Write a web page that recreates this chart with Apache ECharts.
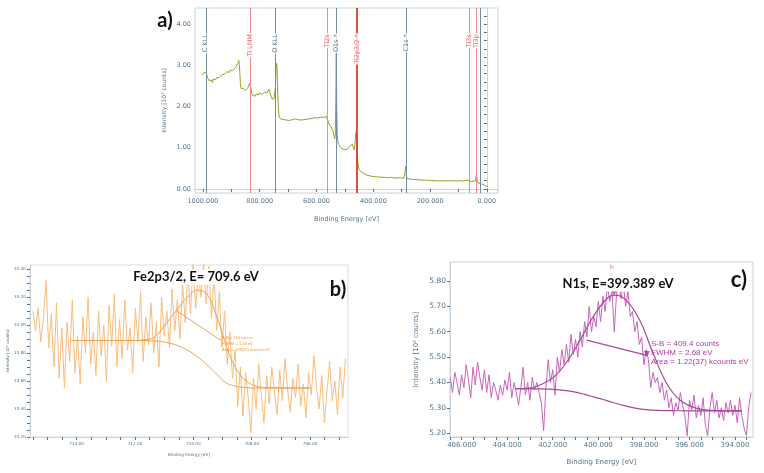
<!DOCTYPE html>
<html><head><meta charset="utf-8">
<script src="https://cdn.jsdelivr.net/npm/echarts@6/dist/echarts.min.js"></script>
<style>html,body{margin:0;padding:0;background:#fff}#chart{width:764px;height:473px}</style>
</head><body><div id="chart"></div>
<script>
// ---------- Panel a: survey spectrum ----------
const surveyEnergy = [1003,1000,997,994,991,988,985,982,979,976,973,970,967,964,961,958,955,952,949,946,943,940,937,934,931,928,925,922,919,916,913,910,907,904,901,898,895,892,889,886,883,880,877,874,872,870,868,866,863,860,857,854,851,848,845,842,839,836,833,831,828,825,822,819,816,813,810,807,804,801,798,795,792,789,786,783,780,777,774,771,768,765,762,759,756,753,750,747,745,743,741,739,737,735,733,731,728,725,720,715,710,705,700,695,690,685,680,675,670,665,660,655,650,645,640,635,630,625,620,615,610,605,600,595,590,585,580,575,570,566,563,560,557,554,551,548,545,542,539,536,534,532,530.5,529,527,525,522,519,516,513,510,507,504,501,498,495,492,489,486,483,480,477,474,471,468,466,464,462,460,458.5,457,455,453,451,448,445,440,435,430,425,420,410,400,390,380,370,360,350,340,330,320,310,300,292,288,285.5,284,281,275,265,255,245,235,225,215,205,195,185,175,165,155,145,135,125,115,105,95,85,75,67,63,60,55,48,42,39,37,35,32,28,24,20,15,10,5,0,-4];
const surveyCounts = [2.76,2.79,2.82,2.80,2.86,2.83,2.72,2.68,2.63,2.66,2.60,2.64,2.58,2.66,2.62,2.69,2.65,2.70,2.67,2.72,2.70,2.74,2.72,2.77,2.75,2.80,2.78,2.82,2.79,2.84,2.82,2.86,2.83,2.88,2.86,2.90,2.87,2.91,2.89,2.94,2.92,2.98,3.05,3.12,3.02,2.80,2.55,2.44,2.42,2.40,2.44,2.41,2.39,2.42,2.40,2.45,2.48,2.56,2.58,2.45,2.32,2.27,2.24,2.28,2.25,2.30,2.26,2.31,2.28,2.33,2.30,2.34,2.29,2.33,2.31,2.35,2.32,2.36,2.33,2.37,2.42,2.38,2.30,2.20,2.18,2.16,2.18,2.22,2.45,2.85,3.05,2.95,2.40,2.05,1.82,1.74,1.72,1.69,1.71,1.68,1.70,1.67,1.69,1.66,1.70,1.68,1.67,1.70,1.66,1.68,1.69,1.67,1.70,1.68,1.66,1.69,1.67,1.70,1.68,1.71,1.67,1.73,1.69,1.72,1.70,1.74,1.71,1.73,1.72,1.76,1.80,1.66,1.60,1.55,1.53,1.50,1.45,1.40,1.30,1.22,1.30,2.20,3.30,2.00,1.30,1.15,1.08,1.05,1.02,0.99,0.97,0.95,0.93,0.95,0.92,0.94,0.96,0.98,1.00,1.03,1.05,1.02,1.08,1.04,0.95,1.00,1.15,1.35,1.40,1.38,1.05,0.70,0.55,0.48,0.45,0.42,0.40,0.38,0.36,0.34,0.33,0.31,0.30,0.29,0.29,0.28,0.28,0.27,0.28,0.27,0.26,0.27,0.26,0.26,0.30,0.55,0.33,0.25,0.24,0.23,0.23,0.22,0.22,0.21,0.21,0.21,0.20,0.20,0.20,0.19,0.20,0.19,0.20,0.19,0.20,0.19,0.20,0.19,0.20,0.21,0.24,0.20,0.18,0.18,0.19,0.25,0.36,0.22,0.15,0.14,0.13,0.12,0.11,0.10,0.08,0.07,0.05];
const peakLineEnergy = [990, 832, 745, 561, 530, 458, 285, 62, 37, 24];
const peakLineLabel  = ['C KLL','Ti LMM','O KLL','Ti2s','O1s *','Ti2p3/2 *','C1s *','Ti3s','Ti3p',''];
const peakLineKind   = ['gray','red','gray','red','gray','ti2p','gray','red','red','gray'];
const surveyXLabels = [1000, 800, 600, 400, 200, 0];
const surveyXTicks  = [1000, 900, 800, 700, 600, 500, 400, 300, 200, 100, 0];
const surveyYLabels = [0, 1, 2, 3, 4];

// ---------- Panel b: Fe2p3/2 ----------
const feStartEnergy = 715.5, feStepEnergy = 0.09;   // acquisition grid
const feCounts = [34.10,33.96,34.12,33.88,34.05,34.32,33.84,34.08,33.70,34.16,33.62,33.98,33.55,34.02,33.74,34.18,33.66,33.92,33.58,34.06,33.80,34.20,33.72,33.95,33.64,34.10,33.78,34.00,33.60,34.14,33.85,34.22,33.70,34.04,33.76,34.18,33.82,33.98,33.66,34.12,33.88,34.24,33.74,34.06,33.86,34.16,33.80,34.02,33.70,34.20,33.92,34.10,33.84,34.26,33.96,34.18,33.90,34.30,34.02,34.40,34.08,34.44,34.12,34.38,34.20,34.44,34.15,34.42,34.05,34.36,33.96,34.24,33.84,34.10,33.72,33.95,33.62,33.82,33.42,33.70,33.35,33.66,33.48,33.23,33.62,33.40,33.72,33.50,33.30,33.64,33.44,33.70,33.52,33.36,33.68,33.46,33.76,33.54,33.38,33.62,33.48,33.72,33.42,33.58,33.34,33.66,33.50,33.78,33.56,33.40,33.64,33.30,33.52,33.74,33.46,33.60,33.36,33.70,33.48,33.76];
const feBgEnergy  = [714.2, 712.0, 711.2, 710.8, 710.5, 710.2, 709.9, 709.5, 709.2, 708.9, 708.6, 708.3, 707.8, 706.0];
const feBgCounts  = [33.89, 33.89, 33.885, 33.87, 33.85, 33.82, 33.78, 33.71, 33.65, 33.59, 33.565, 33.555, 33.55, 33.55];
const feEnvEnergy = [711.8, 711.5, 711.25, 710.9, 710.56, 710.2, 709.87, 709.53, 709.18, 708.96, 708.73, 708.38, 708.04, 707.6, 706.0];
const feEnvCounts = [33.895, 33.90, 33.93, 34.02, 34.11, 34.20, 34.25, 34.22, 34.05, 33.91, 33.77, 33.64, 33.58, 33.555, 33.55];
const feSegEnergy = [710.56, 709.05];
const feSegCounts = [34.10, 33.89];
const feXLabels = [714, 712, 710, 708, 706];
const feYLabels = [33.2, 33.4, 33.6, 33.8, 34.0, 34.2, 34.4];
const feNotes = ['S-B = 315 counts', 'FWHM = 1.58 eV', 'Area = 138(22) kcounts eV'];

// ---------- Panel c: N1s ----------
const nStartEnergy = 406.5, nStepEnergy = 0.1;      // acquisition grid
const nCounts = [5.42,5.36,5.44,5.40,5.35,5.43,5.38,5.47,5.41,5.34,5.46,5.39,5.48,5.42,5.37,5.45,5.36,5.43,5.34,5.40,5.37,5.33,5.39,5.35,5.41,5.37,5.44,5.34,5.40,5.36,5.31,5.38,5.46,5.35,5.40,5.33,5.42,5.37,5.40,5.36,5.32,5.21,5.38,5.49,5.40,5.45,5.35,5.50,5.44,5.53,5.47,5.55,5.48,5.59,5.51,5.57,5.50,5.60,5.54,5.64,5.58,5.70,5.60,5.66,5.62,5.72,5.64,5.74,5.68,5.78,5.72,5.76,5.60,5.75,5.80,5.73,5.79,5.70,5.76,5.66,5.68,5.60,5.64,5.55,5.58,5.47,5.53,5.49,5.38,5.44,5.40,5.42,5.36,5.40,5.33,5.37,5.30,5.34,5.27,5.32,5.29,5.36,5.31,5.27,5.19,5.33,5.29,5.35,5.26,5.31,5.27,5.34,5.23,5.19,5.30,5.36,5.28,5.33,5.26,5.30,5.25,5.32,5.28,5.33,5.27,5.31,5.24,5.34,5.27,5.22,5.19,5.30,5.36];
const nBgEnergy  = [403.66, 402.5, 401.8, 401.4, 401.0, 400.6, 400.2, 399.8, 399.4, 399.0, 398.6, 398.2, 397.8, 397.4, 396.8, 396.0, 393.7];
const nBgCounts  = [5.376, 5.375, 5.372, 5.368, 5.362, 5.353, 5.343, 5.333, 5.322, 5.312, 5.303, 5.296, 5.292, 5.290, 5.289, 5.288, 5.288];
const nEnvEnergy = [403.66, 403.0, 402.56, 401.97, 401.39, 400.8, 400.22, 399.63, 399.27, 398.77, 398.18, 397.59, 397.0, 396.41, 395.68, 394.95, 393.7];
const nEnvCounts = [5.376, 5.378, 5.39, 5.42, 5.48, 5.567, 5.66, 5.73, 5.744, 5.724, 5.645, 5.514, 5.396, 5.33, 5.298, 5.29, 5.288];
const nSegEnergy = [400.51, 397.87];
const nSegCounts = [5.567, 5.507];
const nMarkEnergy = [399.3, 397.87];
const nMarkCounts = [5.755, 5.512];
const nXLabels = [406, 404, 402, 400, 398, 396, 394];
const nYLabels = [5.2, 5.3, 5.4, 5.5, 5.6, 5.7, 5.8];
const nNotes = ['S-B = 409.4 counts', 'FWHM = 2.68 eV', 'Area = 1.22(37) kcounts eV'];

// ---------- build ----------
const zip = (xs, ys) => xs.map((x, i) => [x, ys[i]]);
const gridPairs = (start, step, ys) => ys.map((y, i) => [+(start - step * i).toFixed(3), y]);
const range = (a, b, s) => { const r = []; for (let v = a; v <= b + 1e-9; v += s) r.push(+v.toFixed(3)); return r; };

const FONT = 'DejaVu Sans';
const AX = '#56758c';
const BOX = '#c9d3dc';
const kindColor = { gray: '#6f8ea4', red: '#f08a8a', ti2p: '#d4402f' };
const labelColor = { gray: '#3b5569', red: '#e8383a', ti2p: '#e8383a' };

function xAxisDef(gi, min, max, labels, ticks, fmt, fs, name, nameGap, nameFs) {
  return {
    gridIndex: gi, type: 'value', inverse: true, min, max,
    axisLine: { show: true, lineStyle: { color: BOX } },
    axisTick: { show: true, customValues: ticks, length: 3, lineStyle: { color: AX } },
    axisLabel: { customValues: labels, formatter: v => v.toFixed(fmt), fontSize: fs, color: AX, fontFamily: FONT, margin: 5 },
    splitLine: { show: false },
    name, nameLocation: 'middle', nameGap, nameTextStyle: { fontSize: nameFs, color: AX, fontFamily: FONT }
  };
}
function yAxisDef(gi, min, max, labels, ticks, fmt, fs, name, nameGap, nameFs) {
  return {
    gridIndex: gi, type: 'value', min, max,
    axisLine: { show: true, lineStyle: { color: BOX } },
    axisTick: { show: true, customValues: ticks, length: 3, lineStyle: { color: AX } },
    axisLabel: { customValues: labels, formatter: v => v.toFixed(fmt), fontSize: fs, color: AX, fontFamily: FONT, margin: 4 },
    splitLine: { show: false },
    name, nameLocation: 'middle', nameRotate: 90, nameGap, nameTextStyle: { fontSize: nameFs, color: AX, fontFamily: FONT }
  };
}

const LABEL_Y = 3.78;
const option = {
  animation: false,
  backgroundColor: '#fff',
  grid: [
    { left: 195, top: 8, width: 303, height: 185, show: true, borderColor: BOX, borderWidth: 1 },
    { left: 30, top: 265, width: 318, height: 172, show: true, borderColor: '#d6dee6', borderWidth: 1 },
    { left: 450, top: 262, width: 303, height: 175, show: true, borderColor: BOX, borderWidth: 1 }
  ],
  xAxis: [
    xAxisDef(0, -39, 1028, surveyXLabels, surveyXTicks, 3, 6.5, 'Binding Energy [eV]', 23, 6.5),
    xAxisDef(1, 704.7, 715.6, feXLabels, range(705, 715.5, 0.5), 2, 4.2, 'Binding Energy [eV]', 16, 4.2),
    xAxisDef(2, 393.21, 406.51, nXLabels, range(393.5, 406.5, 0.5), 3, 7, 'Binding Energy [eV]', 22, 7)
  ],
  yAxis: [
    yAxisDef(0, -0.1, 4.39, surveyYLabels, range(0, 4.2, 0.2), 2, 6.5, 'Intensity [10³ counts]', 28, 6),
    yAxisDef(1, 33.2, 34.43, feYLabels, range(33.2, 34.4, 0.05), 2, 4.2, 'Intensity [10³ counts]', 17, 4),
    yAxisDef(2, 5.185, 5.875, nYLabels, nYLabels, 2, 7.5, 'Intensity [10³ counts]', 30, 7)
  ],
  series: [
    { type: 'line', xAxisIndex: 0, yAxisIndex: 0, data: zip(surveyEnergy, surveyCounts), showSymbol: false,
      lineStyle: { color: '#9d9d2a', width: 1 }, z: 3,
      markLine: { silent: true, symbol: ['none', 'none'], label: { show: false },
        data: peakLineEnergy.map((e, i) => ({ xAxis: e, lineStyle: { type: 'solid', color: kindColor[peakLineKind[i]], width: peakLineKind[i] === 'ti2p' ? 1.8 : 1 } })) } },
    { type: 'scatter', xAxisIndex: 0, yAxisIndex: 0, symbolSize: 0, silent: true, z: 6,
      data: peakLineEnergy.map((e, i) => ({ value: [e, LABEL_Y], name: peakLineLabel[i], label: { color: labelColor[peakLineKind[i]] } })).filter(d => d.name),
      label: { show: true, position: 'inside', rotate: 90, align: 'right', verticalAlign: 'middle', formatter: p => p.name,
        fontSize: 6.5, fontFamily: FONT, backgroundColor: '#fff', padding: [0, 1] } },

    { type: 'line', xAxisIndex: 1, yAxisIndex: 1, data: gridPairs(feStartEnergy, feStepEnergy, feCounts), showSymbol: false,
      lineStyle: { color: '#fbbd7c', width: 1 } },
    { type: 'line', xAxisIndex: 1, yAxisIndex: 1, data: zip(feBgEnergy, feBgCounts), showSymbol: false, smooth: 0.4,
      lineStyle: { color: '#f0a355', width: 1 } },
    { type: 'line', xAxisIndex: 1, yAxisIndex: 1, data: zip(feEnvEnergy, feEnvCounts), showSymbol: false, smooth: 0.4,
      lineStyle: { color: '#f0a355', width: 1 } },
    { type: 'line', xAxisIndex: 1, yAxisIndex: 1, data: zip(feSegEnergy, feSegCounts), showSymbol: false,
      lineStyle: { color: '#f0a355', width: 1 } },

    { type: 'line', xAxisIndex: 2, yAxisIndex: 2, data: gridPairs(nStartEnergy, nStepEnergy, nCounts), showSymbol: false,
      lineStyle: { color: '#c966ba', width: 1 } },
    { type: 'line', xAxisIndex: 2, yAxisIndex: 2, data: zip(nBgEnergy, nBgCounts), showSymbol: false, smooth: 0.4,
      lineStyle: { color: '#a8489c', width: 1.2 } },
    { type: 'line', xAxisIndex: 2, yAxisIndex: 2, data: zip(nEnvEnergy, nEnvCounts), showSymbol: false, smooth: 0.4,
      lineStyle: { color: '#a8489c', width: 1.2 } },
    { type: 'line', xAxisIndex: 2, yAxisIndex: 2, data: zip(nSegEnergy, nSegCounts), showSymbol: false,
      lineStyle: { color: '#a8489c', width: 1.2 } },
    { type: 'scatter', xAxisIndex: 2, yAxisIndex: 2, data: zip(nMarkEnergy, nMarkCounts), symbol: 'triangle', symbolRotate: 180,
      symbolSize: 6, itemStyle: { color: '#b0309e' }, silent: true, z: 5 }
  ],
  graphic: [
    { type: 'text', x: 165, y: 21, z: 100, style: { text: 'a)', font: 'bold 20px Lato', fill: '#111', align: 'center', verticalAlign: 'middle' } },
    { type: 'text', x: 196, y: 277, z: 100, style: { text: 'Fe2p3/2, E= 709.6 eV', font: 'bold 13px Lato', fill: '#111', align: 'center', verticalAlign: 'middle', backgroundColor: '#fff', padding: [1, 2] } },
    { type: 'text', x: 338, y: 290, z: 100, style: { text: 'b)', font: 'bold 20px Lato', fill: '#111', align: 'center', verticalAlign: 'middle' } },
    { type: 'text', x: 618, y: 284, z: 100, style: { text: 'N1s, E=399.389 eV', font: 'bold 13px Lato', fill: '#111', align: 'center', verticalAlign: 'middle', backgroundColor: '#fff', padding: [1, 2] } },
    { type: 'text', x: 739, y: 280, z: 100, style: { text: 'c)', font: 'bold 22px Lato', fill: '#111', align: 'center', verticalAlign: 'middle' } },
    { type: 'text', x: 612, y: 267, z: 100, style: { text: 'h', font: '6px ' + FONT, fill: '#c060b0', align: 'center', verticalAlign: 'middle' } }
  ].concat(
    nNotes.map((t, i) => ({ type: 'text', x: 651, y: 344 + i * 8.8, z: 100, style: { text: t, font: '8px "Liberation Sans"', fill: '#b040a0', align: 'left', verticalAlign: 'middle' } })),
    feNotes.map((t, i) => ({ type: 'text', x: 222, y: 338 + i * 5.8, z: 100, style: { text: t, font: '4px "Liberation Sans"', fill: '#ee9a48', align: 'left', verticalAlign: 'middle' } }))
  )
};

const chart = echarts.init(document.getElementById('chart'), null, { renderer: 'canvas' });
chart.setOption(option);
</script>
</body></html>
